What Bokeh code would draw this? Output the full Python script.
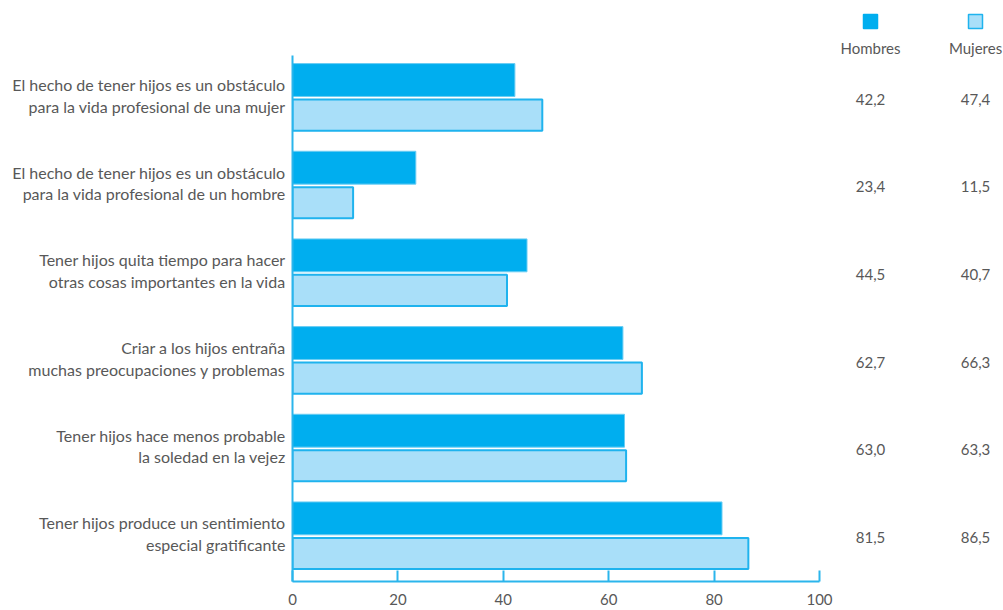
from bokeh.plotting import figure
from bokeh.models import ColumnDataSource, Range1d, FixedTicker
from bokeh.core.properties import value
from bokeh.embed import file_html
from bokeh.resources import INLINE

categories = [
    "El hecho de tener hijos es un obstáculo\npara la vida profesional de una mujer",
    "El hecho de tener hijos es un obstáculo\npara la vida profesional de un hombre",
    "Tener hijos quita tiempo para hacer\notras cosas importantes en la vida",
    "Criar a los hijos entraña\nmuchas preocupaciones y problemas",
    "Tener hijos hace menos probable\nla soledad en la vejez",
    "Tener hijos produce un sentimiento\nespecial gratificante",
]
hombres = [42.2, 23.4, 44.5, 62.7, 63.0, 81.5]
mujeres = [47.4, 11.5, 40.7, 66.3, 63.3, 86.5]
series_names = ["Hombres", "Mujeres"]
x_ticks = [0, 20, 40, 60, 80, 100]

FONT = "Lato"
TXT = "#585858"
C_H = "#00AEEF"
C_M = "#A9DFF9"
C_LINE = "#2BB5EC"

n = len(categories)
centers = [n - i - 0.5 for i in range(n)]
label_pos = [c + 0.045 for c in centers]

W, H = 1003, 610
LEFT, BOTTOM = 292, 29
px_per_unit = 527 / 100.0
x_end = (W - LEFT) / px_per_unit
group_px = 87.67
y_end = (H - BOTTOM) / group_px
AXIS_Y = H - BOTTOM  # pixel row of the x axis

p = figure(width=W, height=H, output_backend="svg", toolbar_location=None,
           x_range=Range1d(0, x_end), y_range=Range1d(0, y_end),
           min_border_left=LEFT, min_border_right=0, min_border_top=0,
           min_border_bottom=BOTTOM)
p.outline_line_color = None
p.grid.visible = False
p.background_fill_color = "white"

src = ColumnDataSource(dict(
    yh=[c + 0.22 for c in centers],
    ym=[c - 0.18 for c in centers],
    h=hombres, m=mujeres,
    th=[f"{v:.1f}".replace(".", ",") for v in hombres],
    tm=[f"{v:.1f}".replace(".", ",") for v in mujeres],
    yc=centers,
))

p.hbar(y="yh", right="h", left=0, height=0.375, source=src,
       fill_color=C_H, line_color="#6ACDF3", line_width=1)
p.hbar(y="ym", right="m", left=0, height=0.355, source=src,
       fill_color=C_M, line_color="#1FB3EE", line_width=2)

col_h = (870 - LEFT) / px_per_unit
col_m = (975 - LEFT) / px_per_unit
p.text(x=col_h, y="yc", text="th", source=src, text_align="center",
       text_baseline="middle", text_font=value(FONT), text_font_size="15px",
       text_color=TXT)
p.text(x=col_m, y="yc", text="tm", source=src, text_align="center",
       text_baseline="middle", text_font=value(FONT), text_font_size="15px",
       text_color=TXT)

# legend
leg_sq_y = (AXIS_Y - 21) / group_px
leg_tx_y = (AXIS_Y - 47) / group_px
leg_src = ColumnDataSource(dict(x=[col_h, col_m], y=[leg_sq_y, leg_sq_y],
                                ty=[leg_tx_y, leg_tx_y], name=series_names,
                                fc=[C_H, C_M], lc=[C_H, "#1FB3EE"]))
p.scatter(x="x", y="y", marker="square", size=14, fill_color="fc",
          line_color="lc", line_width=1.5, source=leg_src)
p.text(x="x", y="ty", text="name", source=leg_src, text_align="center",
       text_baseline="middle", text_font=value(FONT), text_font_size="15px",
       text_color=TXT)

# axes
xa = p.xaxis[0]
xa.bounds = (0, 100)
xa.ticker = FixedTicker(ticks=x_ticks)
xa.minor_tick_line_color = None
xa.major_tick_in = 11
xa.major_tick_out = 0
xa.axis_line_color = C_LINE
xa.axis_line_width = 2
xa.major_tick_line_color = C_LINE
xa.major_tick_line_width = 2
xa.major_label_text_font = FONT
xa.major_label_text_font_size = "15px"
xa.major_label_text_color = TXT
xa.major_label_standoff = 12

ya = p.yaxis[0]
ya.bounds = (0, n)
ya.ticker = FixedTicker(ticks=label_pos)
ya.major_label_overrides = {c: lab for c, lab in zip(label_pos, categories)}
ya.minor_tick_line_color = None
ya.major_tick_line_color = None
ya.axis_line_color = C_LINE
ya.axis_line_width = 2
ya.major_label_text_font = FONT
ya.major_label_text_font_size = "16px"
ya.major_label_text_color = TXT
ya.major_label_text_line_height = 1.15
ya.major_label_standoff = 1

open("out.html", "w").write(file_html(p, INLINE))
